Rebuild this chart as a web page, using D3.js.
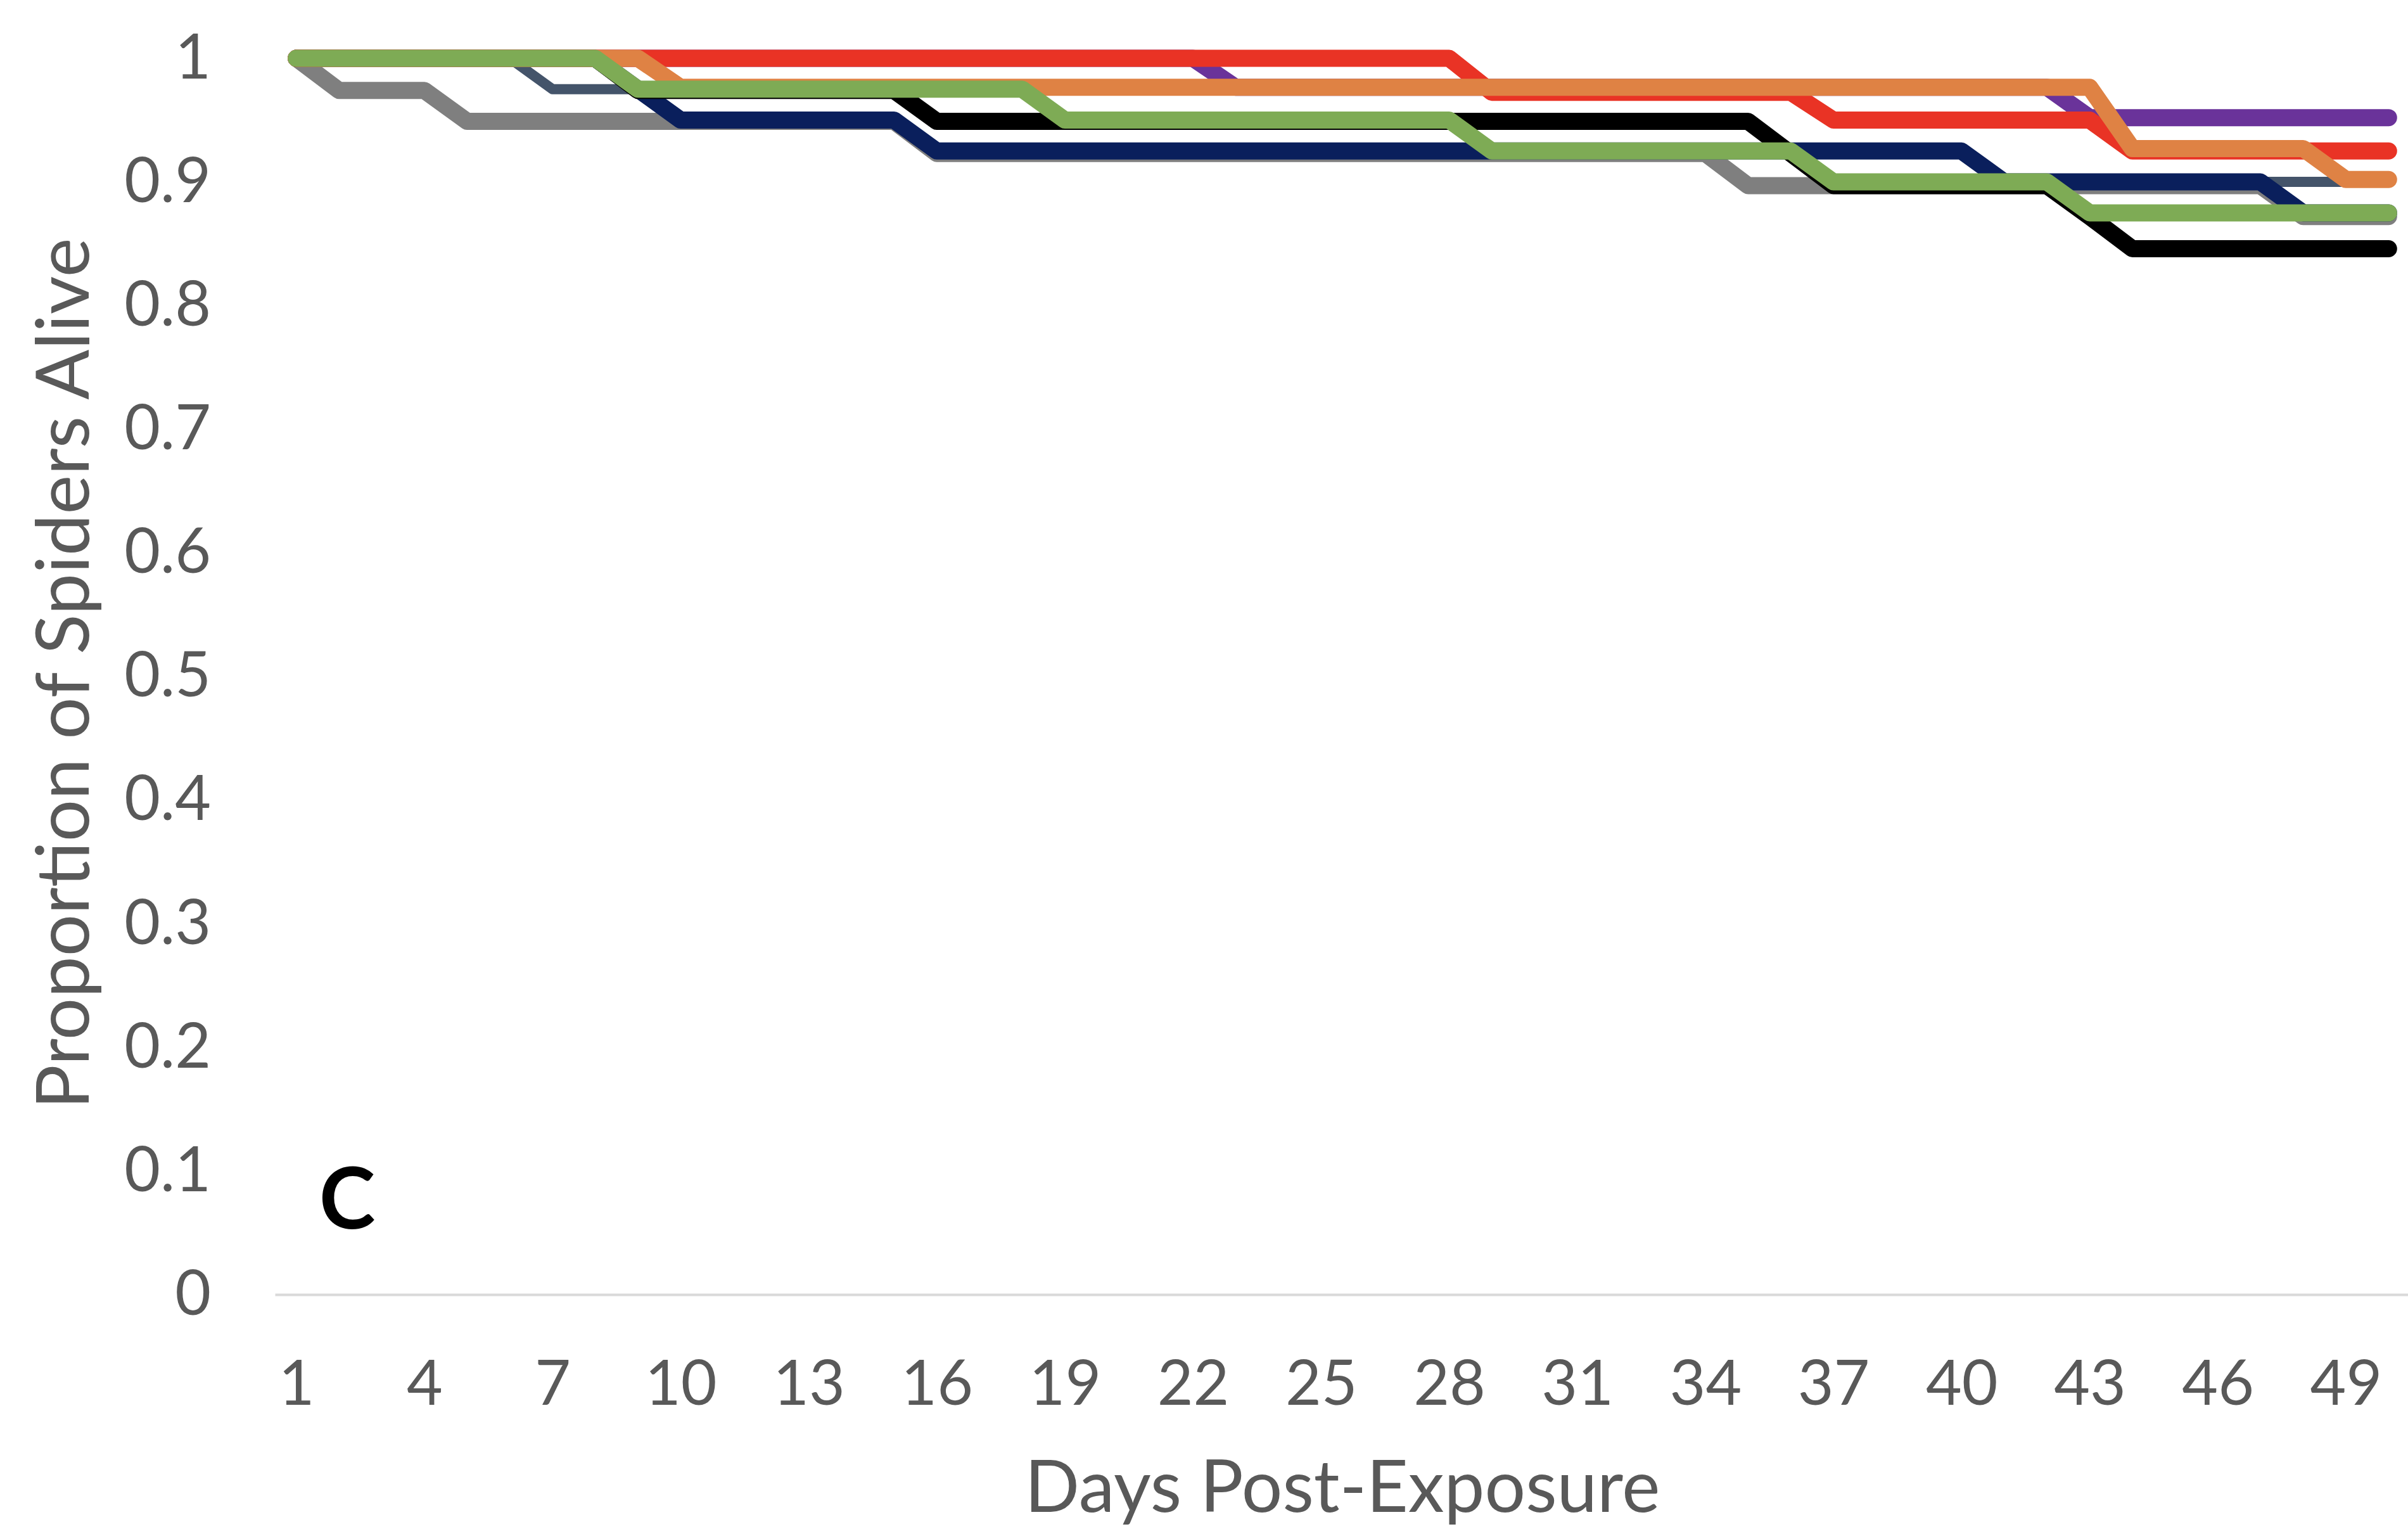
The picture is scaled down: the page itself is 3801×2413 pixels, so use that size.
<!DOCTYPE html>
<html>
<head>
<meta charset="utf-8">
<script src="https://cdn.jsdelivr.net/npm/d3@7"></script>
<style>
  html, body { margin: 0; padding: 0; background: #ffffff; }
  svg { display: block; }
  text { font-family: Lato, "Open Sans", "DejaVu Sans", sans-serif; }
</style>
</head>
<body>
<svg id="chart" width="3801" height="2413"></svg>
<script>
// Days after exposure (category axis)
const days = [1,2,3,4,5,6,7,8,9,10,11,12,13,14,15,16,17,18,19,20,21,22,23,24,25,
              26,27,28,29,30,31,32,33,34,35,36,37,38,39,40,41,42,43,44,45,46,47,48,49,50];

// Labelled categories on the x axis
const xTickDays = [1,4,7,10,13,16,19,22,25,28,31,34,37,40,43,46,49];
const yTicks = [0,0.1,0.2,0.3,0.4,0.5,0.6,0.7,0.8,0.9,1];

// Proportion of spiders alive per day, one array per treatment group
const graySurv = [1,0.974,0.974,0.974,0.949,0.949,0.949,0.949,0.949,0.949,0.949,0.949,0.949,0.949,0.949,
  0.923,0.923,0.923,0.923,0.923,0.923,0.923,0.923,0.923,0.923,0.923,0.923,0.923,0.923,0.923,0.923,0.923,0.923,0.923,
  0.897,0.897,0.897,0.897,0.897,0.897,0.897,0.897,0.897,0.897,0.897,0.897,0.897,0.872,0.872,0.872];
const slateSurv = [1,1,1,1,1,1,0.975,0.975,0.975,0.95,0.95,0.95,0.95,0.95,0.95,
  0.925,0.925,0.925,0.925,0.925,0.925,0.925,0.925,0.925,0.925,0.925,0.925,0.925,0.925,0.925,
  0.925,0.925,0.925,0.925,0.925,0.925,0.925,0.925,0.925,0.925,
  0.9,0.9,0.9,0.9,0.9,0.9,0.9,0.9,0.9,0.9];
const navySurv = [1,1,1,1,1,1,1,1,0.975,0.95,0.95,0.95,0.95,0.95,0.95,
  0.925,0.925,0.925,0.925,0.925,0.925,0.925,0.925,0.925,0.925,0.925,0.925,0.925,0.925,0.925,
  0.925,0.925,0.925,0.925,0.925,0.925,0.925,0.925,0.925,0.925,
  0.9,0.9,0.9,0.9,0.9,0.9,0.9,0.875,0.875,0.875];
const blackSurv = [1,1,1,1,1,1,1,1,0.974,0.974,0.974,0.974,0.974,0.974,0.974,
  0.949,0.949,0.949,0.949,0.949,0.949,0.949,0.949,0.949,0.949,0.949,0.949,0.949,0.949,0.949,
  0.949,0.949,0.949,0.949,0.949,0.923,0.897,0.897,0.897,0.897,0.897,0.897,0.872,
  0.846,0.846,0.846,0.846,0.846,0.846,0.846];
const purpleSurv = [1,1,1,1,1,1,1,1,1,1,1,1,1,1,1,1,1,1,1,1,1,1,
  0.9765,0.9765,0.9765,0.9765,0.9765,0.9765,0.9765,0.9765,0.9765,0.9765,0.9765,0.9765,0.9765,
  0.9765,0.9765,0.9765,0.9765,0.9765,0.9765,0.9765,
  0.952,0.952,0.952,0.952,0.952,0.952,0.952,0.952];
const redSurv = [1,1,1,1,1,1,1,1,1,1,1,1,1,1,1,1,1,1,1,1,1,1,1,1,1,1,1,1,
  0.9725,0.9725,0.9725,0.9725,0.9725,0.9725,0.9725,0.9725,
  0.95,0.95,0.95,0.95,0.95,0.95,0.95,
  0.925,0.925,0.925,0.925,0.925,0.925,0.925];
const orangeSurv = [1,1,1,1,1,1,1,1,1,
  0.9765,0.9765,0.9765,0.9765,0.9765,0.9765,0.9765,0.9765,0.9765,0.9765,0.9765,0.9765,0.9765,
  0.9765,0.9765,0.9765,0.9765,0.9765,0.9765,0.9765,0.9765,0.9765,0.9765,0.9765,0.9765,0.9765,
  0.9765,0.9765,0.9765,0.9765,0.9765,0.9765,0.9765,0.9765,
  0.927,0.927,0.927,0.927,0.927,0.902,0.902];
const greenSurv = [1,1,1,1,1,1,1,1,
  0.975,0.975,0.975,0.975,0.975,0.975,0.975,0.975,0.975,0.975,
  0.95,0.95,0.95,0.95,0.95,0.95,0.95,0.95,0.95,0.95,
  0.925,0.925,0.925,0.925,0.925,0.925,0.925,0.925,
  0.9,0.9,0.9,0.9,0.9,0.9,
  0.875,0.875,0.875,0.875,0.875,0.875,0.875,0.875];

// Drawing order: first entry is at the bottom
const seriesList = [
  { values: graySurv,   color: "#7f7f7f", width: 27 },
  { values: slateSurv,  color: "#44546a", width: 16 },
  { values: navySurv,   color: "#0a1f5c", width: 27 },
  { values: blackSurv,  color: "#000000", width: 27 },
  { values: purpleSurv, color: "#6a339a", width: 27 },
  { values: redSurv,    color: "#e93325", width: 27 },
  { values: orangeSurv, color: "#df8244", width: 27 },
  { values: greenSurv,  color: "#7eab55", width: 27 }
];

const svg = d3.select("#chart");
svg.append("rect").attr("width", 3801).attr("height", 2413).attr("fill", "#ffffff");

const plotLeft = 434, plotRight = 3804, plotTop = 92, plotBottom = 2043;

const x = d3.scalePoint().domain(days).range([plotLeft, plotRight]).padding(0.5);
const y = d3.scaleLinear().domain([0, 1]).range([plotBottom, plotTop]);

const labelColor = "#595959";

// Y axis: labels only
const yAxis = svg.append("g")
  .attr("transform", `translate(${plotLeft},0)`)
  .call(d3.axisLeft(y).tickValues(yTicks).tickSize(0).tickPadding(101)
    .tickFormat(d => (d === 0 || d === 1) ? String(d) : d.toFixed(1)));
yAxis.select(".domain").remove();
yAxis.selectAll("text")
  .attr("fill", labelColor)
  .attr("font-size", 98)
  .attr("font-family", "Lato, 'Open Sans', sans-serif");

// X axis: light baseline with every third day labelled
const xAxis = svg.append("g")
  .attr("transform", `translate(0,${plotBottom})`)
  .call(d3.axisBottom(x).tickValues(xTickDays).tickSize(0).tickSizeOuter(0).tickPadding(104));
xAxis.select(".domain")
  .attr("stroke", "#d9d9d9")
  .attr("stroke-width", 4);
xAxis.selectAll("text")
  .attr("fill", labelColor)
  .attr("font-size", 98)
  .attr("font-family", "Lato, 'Open Sans', sans-serif");

// Survival curves
const line = d3.line()
  .x((d, i) => x(days[i]))
  .y(d => y(d));

svg.append("g")
  .selectAll("path")
  .data(seriesList)
  .join("path")
  .attr("d", s => line(s.values))
  .attr("fill", "none")
  .attr("stroke", s => s.color)
  .attr("stroke-width", s => s.width)
  .attr("stroke-linejoin", "round")
  .attr("stroke-linecap", "round");

// Axis titles
svg.append("text")
  .attr("transform", `translate(99,1063) rotate(-90)`)
  .attr("text-anchor", "middle")
  .attr("dy", "0.35em")
  .attr("fill", labelColor)
  .attr("font-size", 117)
  .text("Proportion of Spiders Alive");

svg.append("text")
  .attr("x", 2119)
  .attr("y", 2386)
  .attr("text-anchor", "middle")
  .attr("fill", labelColor)
  .attr("font-size", 114)
  .text("Days Post-Exposure");

// Panel letter
svg.append("text")
  .attr("x", 548)
  .attr("y", 1939)
  .attr("text-anchor", "middle")
  .attr("fill", "#000000")
  .attr("font-size", 134)
  .attr("font-weight", "bold")
  .text("C");
</script>
</body>
</html>
